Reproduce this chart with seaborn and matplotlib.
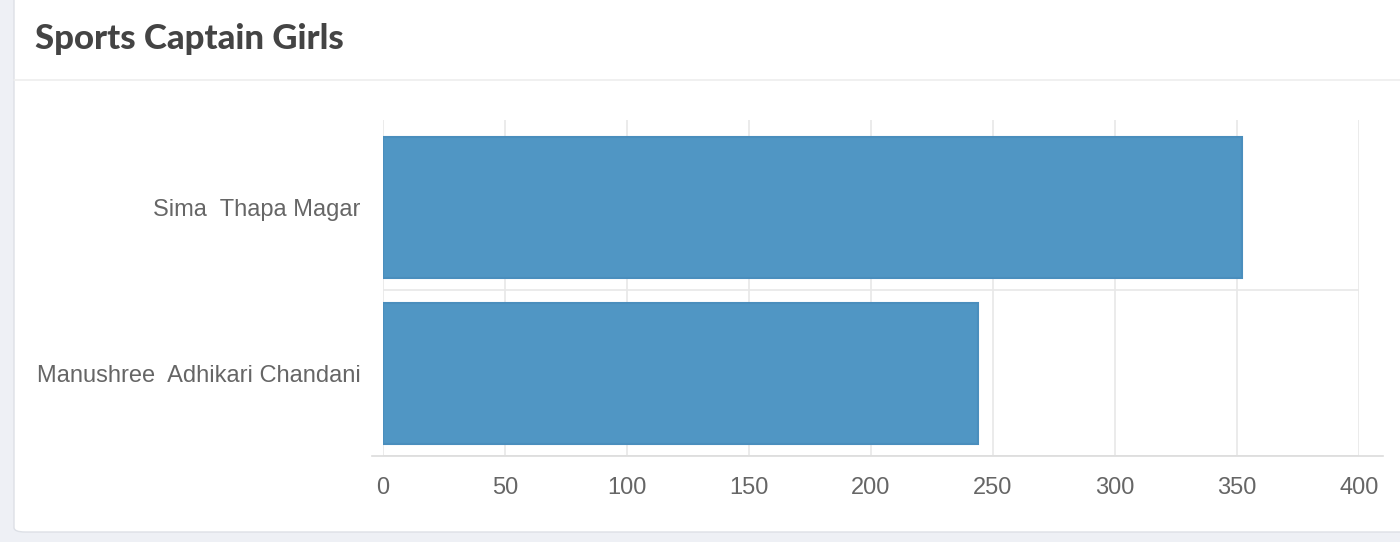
import pandas as pd
import seaborn as sns
import matplotlib
matplotlib.use('Agg')
import matplotlib.pyplot as plt
from matplotlib.patches import FancyBboxPatch
from matplotlib.lines import Line2D

# chart values
names = ['Sima  Thapa Magar', 'Manushree  Adhikari Chandani']
votes = [352, 244]
x_ticks = [0, 50, 100, 150, 200, 250, 300, 350, 400]
title = 'Sports Captain Girls'

df = pd.DataFrame({'name': names, 'votes': votes})

sns.set_theme(style='white')
plt.rcParams['font.family'] = ['Liberation Sans', 'DejaVu Sans']

W, H = 1400, 542
fig = plt.figure(figsize=(W / 100, H / 100), dpi=100)
fig.patch.set_facecolor('#eef0f5')

# white card behind the chart
card = FancyBboxPatch((14 / W, 10 / H), 1.2, 1.2, boxstyle='round,pad=0,rounding_size=0.008',
                      transform=fig.transFigure, facecolor='white', edgecolor='#dde0e6',
                      linewidth=1.0, zorder=-10)
fig.patches.append(card)
fig.lines.append(Line2D([14 / W, 1], [1 - 80 / H, 1 - 80 / H], transform=fig.transFigure,
                        color='#eeeeee', linewidth=1.2, zorder=-5))
fig.text(35 / W, 1 - 39 / H, title, fontsize=25, fontweight='black', color='#444444',
         family=['Lato', 'DejaVu Sans'], va='center', ha='left')

ax = fig.add_axes([383 / W, 1 - 456 / H, (1359 - 383) / W, (456 - 120) / H], zorder=2)
ax.set_facecolor('none')
sns.barplot(data=df, x='votes', y='name', ax=ax, width=0.85, color='#5096c4',
            edgecolor='#4a8ebd', linewidth=1.5, saturation=1, zorder=3)

ax.set_xlim(0, 400)
ax.set_ylim(1.5, -0.53)
ax.set_xticks(x_ticks)
ax.set_xticklabels([str(t) for t in x_ticks])
ax.set_xlabel('')
ax.set_ylabel('')

# category boundaries as minor ticks, like the reference grid
ax.set_yticks([0.5, 1.5], minor=True)
ax.grid(axis='x', color='#e8e8e8', linewidth=1.2, zorder=0)
ax.grid(axis='y', which='minor', color='#e8e8e8', linewidth=1.2, zorder=0)
ax.tick_params(axis='x', length=6, color='#e8e8e8', width=1.2, labelsize=17,
               labelcolor='#666666', pad=9)
ax.tick_params(axis='y', which='major', length=0, labelsize=17, labelcolor='#666666', pad=16)
ax.tick_params(axis='y', which='minor', length=10, color='#e8e8e8', width=1.2)

for side in ['top', 'right', 'left']:
    ax.spines[side].set_visible(False)
ax.spines['bottom'].set_color('#dcdcdc')
ax.spines['bottom'].set_linewidth(1.2)
ax.spines['bottom'].set_bounds(-4.5, 410)
ax.spines['bottom'].set_clip_on(False)

fig.savefig('out.png', dpi=100, facecolor=fig.get_facecolor())
